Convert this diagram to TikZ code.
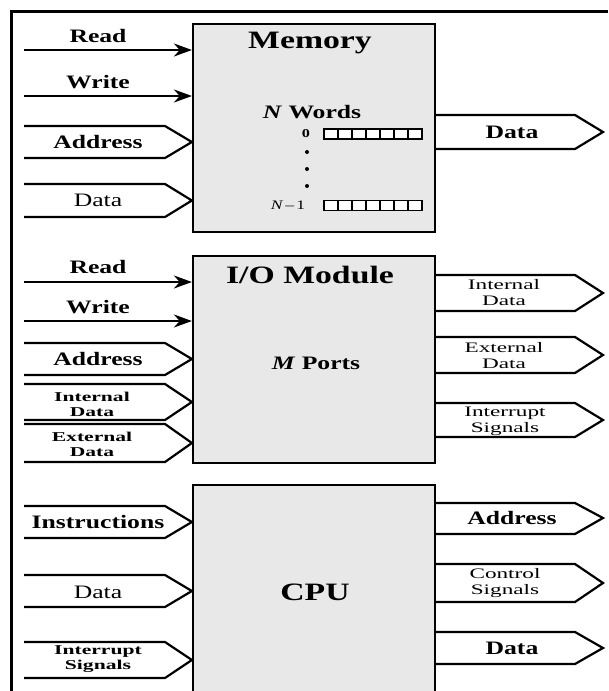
\documentclass[tikz,border=0pt]{standalone}
\usepackage{fontspec}
\setmainfont{Liberation Serif}[FakeStretch=1.35]
\newfontfamily\widefont{Liberation Serif}[FakeStretch=1.6]
\usetikzlibrary{arrows.meta}
\newcommand\Tbig{\fontsize{25}{28}\selectfont\bfseries}
\newcommand\Tmed{\fontsize{19}{21}\selectfont\bfseries}
\newcommand\Tsmb{\widefont\fontsize{13.5}{15}\selectfont\bfseries}
\newcommand\Tsmr{\widefont\fontsize{14.5}{16}\selectfont}
\newcommand\Tdatr{\fontsize{19}{21}\selectfont}
% left bus: top, mid, bottom, box
\newcommand\lbus[4]{\draw[bus] (24,#1) -- (165,#1) -- (#4.west |- 0,#2) -- (165,#3) -- (24,#3);}
% right bus
\newcommand\rbus[4]{\draw[bus] (#4.east |- 0,#1) -- (575,#1) -- (603,#2) -- (575,#3) -- (#4.east |- 0,#3);}
\newcommand\cellrow[1]{\foreach \k in {0,...,6}{\draw[line width=1.2pt,fill=white] ({324+14*\k},{#1-5}) rectangle ({338+14*\k},{#1+5});}}
\begin{document}
\begin{tikzpicture}[x=1pt,y=-1pt,
  blk/.style={draw,line width=2.2pt,fill=black!9,inner sep=0pt,minimum width=242pt},
  bus/.style={draw,line width=2.2pt,line join=miter},
  sig/.style={line width=2.2pt,-{Stealth[length=18pt,width=13pt]}},
  lab/.style={inner sep=0pt,align=center}]
\useasboundingbox (0,0) rectangle (608,691);
\begin{scope}
\clip (0,0) rectangle (608,691);
% frame
\draw[line width=3pt] (608,11) -- (11,11) -- (11,695);

% ---------------- Memory ----------------
\node[blk,minimum height=208pt] (mem) at (314,128) {};
\node[lab,font=\Tbig] (memt) at (310,43) {Memory};
\node[lab,font=\Tmed] (memw) at (312,112) {\textit{N} Words};
\node[lab,font=\fontsize{12}{12}\selectfont\bfseries] (mem0) at (306,134) {0};
\node[lab,font=\fontsize{13}{13}\selectfont] (memn) at (288,205) {\textit{N}\,--\,1};
\cellrow{134}
\cellrow{205.5}
\foreach \yy in {152,169,186}{\fill (307,\yy) circle (2pt);}
\coordinate (mr0) at (24,50);
\coordinate (mw0) at (24,96);
\draw[sig] (mr0) -- (mem.west |- mr0);
\draw[sig] (mw0) -- (mem.west |- mw0);
\node[lab,font=\Tmed] (memrl) at (98,36) {Read};
\node[lab,font=\Tmed] (memwl) at (98,82) {Write};
\lbus{126}{142}{158}{mem}
\node[lab,font=\Tmed] (memal) at (98,142) {Address};
\lbus{184}{200.5}{217}{mem}
\node[lab,font=\Tdatr] (memdl) at (98,200) {Data};
\rbus{115}{132}{149}{mem}
\node[lab,font=\Tmed] (memdo) at (512,132) {Data};

% ---------------- I/O Module ----------------
\node[blk,minimum height=207pt] (io) at (314,359.5) {};
\node[lab,font=\Tbig] (iot) at (310,275) {I/O Module};
\node[lab,font=\Tmed] (iop) at (316,363) {\textit{M} Ports};
\coordinate (ir0) at (24,282);
\coordinate (iw0) at (24,321);
\draw[sig] (ir0) -- (io.west |- ir0);
\draw[sig] (iw0) -- (io.west |- iw0);
\node[lab,font=\Tmed] (iorl) at (98,267) {Read};
\node[lab,font=\Tmed] (iowl) at (98,307) {Write};
\lbus{343}{359}{375}{io}
\node[lab,font=\Tmed] (ioal) at (98,359) {Address};
\lbus{384}{402}{420}{io}
\node[lab,font=\Tsmb] (ioil) at (92,404) {Internal\\Data};
\lbus{424}{443}{462}{io}
\node[lab,font=\Tsmb] (ioel) at (92,444) {External\\Data};
\rbus{275}{293}{311}{io}
\node[lab,font=\Tsmr] (ioir) at (504,293) {Internal\\Data};
\rbus{337}{355}{373}{io}
\node[lab,font=\Tsmr] (ioer) at (504,356) {External\\Data};
\rbus{403}{420}{437}{io}
\node[lab,font=\Tsmr] (iosr) at (505,421) {Interrupt\\Signals};

% ---------------- CPU ----------------
\node[blk,minimum height=215pt] (cpu) at (314,592.5) {};
\node[lab,font=\Tbig] (cput) at (315,592) {CPU};
\lbus{506}{522}{538}{cpu}
\node[lab,font=\Tmed] (cpuil) at (98,522) {Instructions};
\lbus{575}{591}{607}{cpu}
\node[lab,font=\Tdatr] (cpudl) at (98,592) {Data};
\lbus{642}{660}{678}{cpu}
\node[lab,font=\Tsmb] (cpusl) at (98,659) {Interrupt\\Signals};
\rbus{503}{518}{534}{cpu}
\node[lab,font=\Tmed] (cpuar) at (512,518) {Address};
\rbus{564}{583}{602}{cpu}
\node[lab,font=\Tsmr] (cpucr) at (505,583) {Control\\Signals};
\rbus{632}{648}{664}{cpu}
\node[lab,font=\Tmed] (cpudr) at (512,648) {Data};
\end{scope}
\end{tikzpicture}
\end{document}
